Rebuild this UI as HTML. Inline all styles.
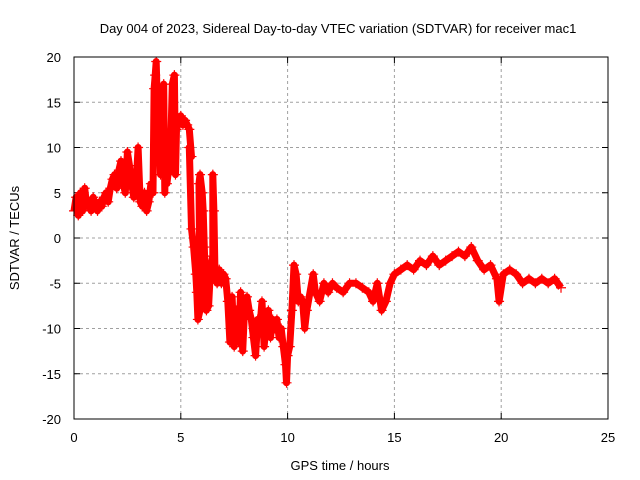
<!DOCTYPE html>
<html><head><meta charset="utf-8"><style>
html,body{margin:0;padding:0;background:#fff}
svg{display:block;font-family:"Liberation Sans",sans-serif;font-size:13px}
</style></head><body>
<svg id="chart" width="640" height="480">
<text x="338" y="33" text-anchor="middle">Day 004 of 2023, Sidereal Day-to-day VTEC variation (SDTVAR) for receiver mac1</text>
<g id="grid"></g>
<g id="axes"></g>
<g id="series"></g>
<rect x="74" y="57" width="534" height="362" fill="none" stroke="#000" stroke-width="1"/>
<text x="340" y="470" text-anchor="middle">GPS time / hours</text>
<text transform="translate(19,238) rotate(-90)" text-anchor="middle">SDTVAR / TECUs</text>
</svg>
<script>
const xTicks=[0,5,10,15,20,25];
const yTicks=[-20,-15,-10,-5,0,5,10,15,20];
const timesH=[0,0.1,0.2,0.3,0.4,0.5,0.6,0.7,0.8,0.9,1.0,1.1,1.2,1.3,1.4,1.5,1.6,1.7,1.8,1.9,2.0,2.1,2.2,2.3,2.4,2.5,2.6,2.7,2.8,2.9,3.0,3.1,3.2,3.3,3.4,3.5,3.6,3.7,3.75,3.8,3.85,3.9,3.95,4.0,4.05,4.1,4.15,4.2,4.25,4.3,4.35,4.4,4.5,4.6,4.7,4.75,4.8,4.9,5.0,5.1,5.2,5.3,5.4,5.5,5.4,5.5,5.6,5.7,5.75,5.8,5.9,5.85,5.9,6.0,6.05,6.1,6.15,6.2,6.3,6.4,6.5,6.5,6.55,6.6,6.7,6.8,6.9,7.0,7.1,7.2,7.3,7.4,7.5,7.6,7.7,7.8,7.9,8.0,8.1,8.2,8.3,8.4,8.5,8.6,8.7,8.8,8.9,9.0,9.1,9.2,9.3,9.4,9.5,9.6,9.7,9.8,9.9,9.95,10.0,10.1,10.2,10.3,10.4,10.5,10.6,10.7,10.8,10.9,11.2,11.3,11.5,11.7,11.9,12.1,12.3,12.6,12.9,13.2,13.5,13.8,14.0,14.2,14.4,14.6,14.8,15.0,15.3,15.6,15.9,16.2,16.5,16.8,17.1,17.4,17.7,18.0,18.3,18.6,18.9,19.2,19.5,19.8,19.9,20.1,20.4,20.7,21.0,21.3,21.6,21.9,22.2,22.5,22.8];
const sdtvar=[3,4.5,2.5,5,3,5.5,3.5,4,3,4.5,3.5,3,4,3.5,4.5,5,4,5.5,6.5,7,5.5,7.5,8.5,6,5,9.5,8,6,4.5,5.5,10,4,3.5,5,3,4,6,5,16.5,18,19.5,15,10,12,7,14,9,17,5,11,6,7,7.5,17,18,7,12,13,13.5,12.5,13,12.5,12,9,10,1,-1,-4,-6,-9,-8,6,7,5,3,-1,-5,-8,-7.5,-3,-2,7,3,-4,-5,-3.5,-5,-4,-4.5,-7,-11.5,-6.5,-12,-8,-11.5,-6,-12.5,-7,-6.5,-8,-9,-11,-13,-9,-10,-7,-12,-9.5,-8,-11,-9,-10,-9,-11,-10,-12,-14,-16,-13,-12,-8,-3,-4,-7,-6.5,-7,-10,-8,-4,-6,-7,-5,-6,-5,-5.5,-6,-5,-5,-5.5,-6,-7,-5,-8,-7,-5,-4,-3.5,-3,-3.5,-2.5,-3,-2,-3,-2.5,-2,-1.5,-2,-1,-2.5,-3.5,-3,-4.5,-7,-4,-3.5,-4,-5,-4.5,-5,-4.5,-5,-4.5,-5.5];
const NS='http://www.w3.org/2000/svg';
const X0=74,X1=608,Y0=419,Y1=57;
function xs(v){return X0+(v-0)/(25-0)*(X1-X0);}
function ys(v){return Y0-(v+20)/40*(Y0-Y1);}
const grid=document.getElementById('grid'),axes=document.getElementById('axes'),ser=document.getElementById('series');
function mk(tag,attrs,parent){const e=document.createElementNS(NS,tag);for(const k in attrs)e.setAttribute(k,attrs[k]);parent.appendChild(e);return e;}
xTicks.forEach(t=>{const x=xs(t);
 if(t>0&&t<25){const g=mk('line',{x1:x,x2:x,y1:Y1,y2:Y0,stroke:'#a0a0a0','stroke-dasharray':'3,3'},grid);
 
 }
 mk('line',{x1:x,x2:x,y1:Y0,y2:Y0-6,stroke:'#000'},axes);
 mk('line',{x1:x,x2:x,y1:Y1,y2:Y1+6,stroke:'#000'},axes);
 const l=mk('text',{x:x,y:Y0+23,'text-anchor':'middle'},axes);l.textContent=t;
 
 
});
yTicks.forEach(t=>{const y=ys(t);
 if(t>-20&&t<20){const g=mk('line',{x1:X0,x2:X1,y1:y,y2:y,stroke:'#a0a0a0','stroke-dasharray':'3,3'},grid);
 
 }
 mk('line',{x1:X0,x2:X0+6,y1:y,y2:y,stroke:'#000'},axes);
 mk('line',{x1:X1,x2:X1-6,y1:y,y2:y,stroke:'#000'},axes);
 const l=mk('text',{x:X0-13,y:y+5,'text-anchor':'end'},axes);l.textContent=t;
 
 
});
let d='';
timesH.forEach((t,i)=>{d+=(i?'L':'M')+xs(t).toFixed(1)+','+ys(sdtvar[i]).toFixed(1);});
const pl=mk('path',{d:d,fill:'none',stroke:'#ff0000','stroke-width':7,'stroke-linejoin':'round'},ser);


timesH.forEach((t,i)=>{const x=xs(t),y=ys(sdtvar[i]);
 const p=mk('path',{d:`M${x-5},${y}H${x+5}M${x},${y-5}V${y+5}`,stroke:'#ff0000','stroke-width':1.2},ser);
 
 
});
</script>
</body></html>
